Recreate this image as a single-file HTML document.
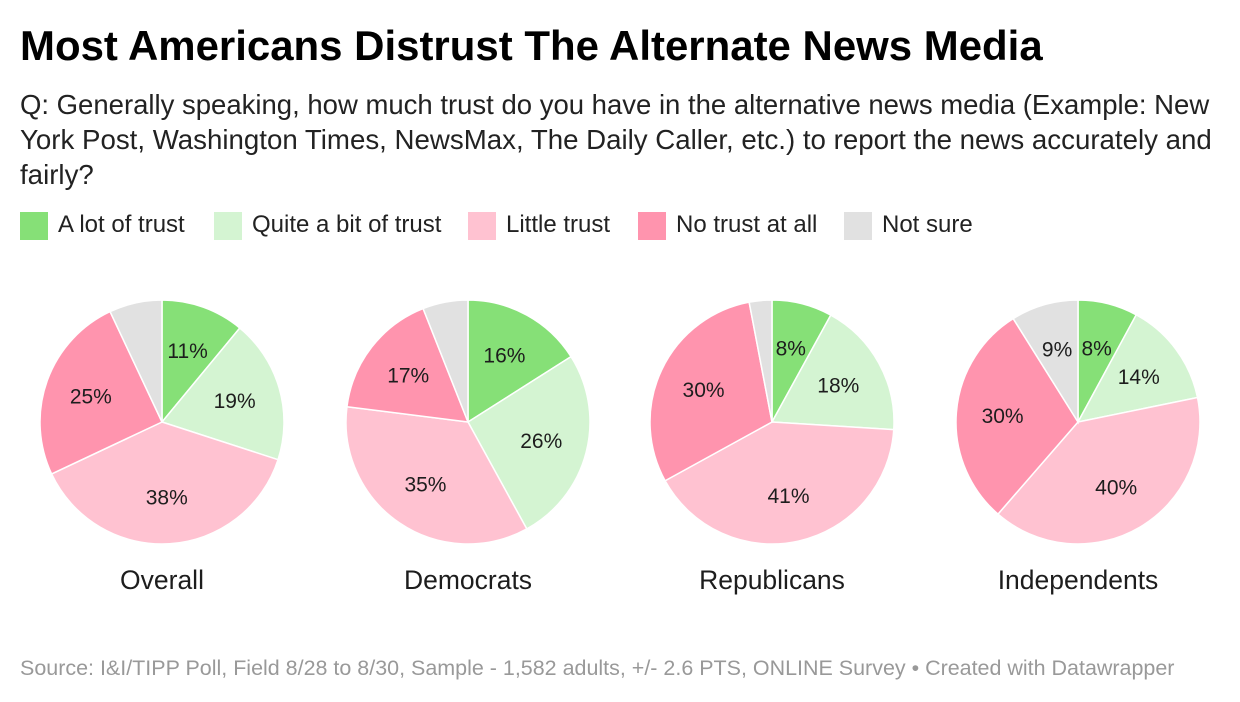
<!DOCTYPE html>
<html><head><meta charset="utf-8"><style>
body{margin:0;width:1240px;height:702px;background:#fff;font-family:"Liberation Sans",sans-serif;color:#1d1d1d;position:relative;overflow:hidden}
.abs{position:absolute;white-space:nowrap}
#title{left:20px;top:22px;font-size:40px;font-weight:bold;color:#000}
.sub{left:20px;font-size:24px;color:#222}
.leg{top:211px;font-size:24px;color:#222}
.sw{position:absolute;top:212px;width:28px;height:28px}
#source{left:20px;top:656px;font-size:18px;color:#999}
</style></head><body>
<div id="title" class="abs fit" data-w="1023">Most Americans Distrust The Alternate News Media</div>
<div class="abs sub fit" style="top:89px" data-w="1190">Q: Generally speaking, how much trust do you have in the alternative news media (Example: New</div>
<div id="sub2" class="abs sub fit" style="top:124px" data-w="1192">York Post, Washington Times, NewsMax, The Daily Caller, etc.) to report the news accurately and</div>
<div id="sub3" class="abs sub" style="top:159px">fairly?</div>
<div id="legend"></div>
<svg id="chart" width="1240" height="702" style="position:absolute;left:0;top:0"></svg>
<div id="source" class="abs fit" data-w="1155">Source: I&amp;I/TIPP Poll, Field 8/28 to 8/30, Sample - 1,582 adults, +/- 2.6 PTS, ONLINE Survey • Created with Datawrapper</div>
<script>
const categories=["A lot of trust","Quite a bit of trust","Little trust","No trust at all","Not sure"];
const groups=["Overall","Democrats","Republicans","Independents"];
const overall=[11,19,38,25,7];
const democrats=[16,26,35,17,6];
const republicans=[8,18,41,30,3];
const independents=[8,14,40,30,9];
const series=[overall,democrats,republicans,independents];
const colors=["#86e077","#d4f4d2","#ffc2d1","#ff94ae","#e1e1e1"];
const legendX=[20,214,468,638,844];
const centersX=[162,468,772,1078],cy=422,R=122;
const NS="http://www.w3.org/2000/svg";
const svg=document.getElementById('chart');
const leg=document.getElementById('legend');
categories.forEach((c,i)=>{
  const s=document.createElement('div');s.className='sw';s.style.left=legendX[i]+'px';s.style.background=colors[i];
  
  
  leg.appendChild(s);
  const t=document.createElement('div');t.className='abs leg';t.style.left=(legendX[i]+38)+'px';t.textContent=c;
  
  
  leg.appendChild(t);
});
function pt(cx,a,r){return [cx+r*Math.sin(a),cy-r*Math.cos(a)];}
series.forEach((vals,g)=>{
  const cx=centersX[g];const tot=vals.reduce((a,b)=>a+b,0);let acc=0;
  vals.forEach((v,i)=>{
    const a0=acc/tot*2*Math.PI;acc+=v;const a1=acc/tot*2*Math.PI;
    const p0=pt(cx,a0,R),p1=pt(cx,a1,R);
    const p=document.createElementNS(NS,'path');
    p.setAttribute('d',`M${cx},${cy}L${p0[0]},${p0[1]}A${R},${R} 0 ${a1-a0>Math.PI?1:0} 1 ${p1[0]},${p1[1]}Z`);
    p.setAttribute('fill',colors[i]);p.setAttribute('stroke','#fff');p.setAttribute('stroke-width','1.5');
    
    
    svg.appendChild(p);
    if(v>=8){
      const m=(a0+a1)/2;const lp=pt(cx,m,R*0.62);
      const t=document.createElementNS(NS,'text');
      t.setAttribute('x',lp[0]);t.setAttribute('y',lp[1]+7);t.setAttribute('text-anchor','middle');
      t.setAttribute('font-size','21');t.setAttribute('fill','#1d1d1d');t.setAttribute('font-family','Liberation Sans, sans-serif');
      t.textContent=v+'%';
      
      
      svg.appendChild(t);
    }
  });
  const t=document.createElementNS(NS,'text');
  t.setAttribute('x',cx);t.setAttribute('y',589);t.setAttribute('text-anchor','middle');
  t.setAttribute('font-size','26.5');t.setAttribute('fill','#1d1d1d');t.setAttribute('font-family','Liberation Sans, sans-serif');
  t.textContent=groups[g];
  
  
  svg.appendChild(t);
});
document.querySelectorAll('.fit').forEach(el=>{
  const w=+el.dataset.w,cw=el.getBoundingClientRect().width;
  if(cw>0){const fs=parseFloat(getComputedStyle(el).fontSize);el.style.fontSize=(fs*w/cw)+'px';}
});
document.getElementById('sub3').style.fontSize=document.getElementById('sub2').style.fontSize;
</script>
</body></html>
